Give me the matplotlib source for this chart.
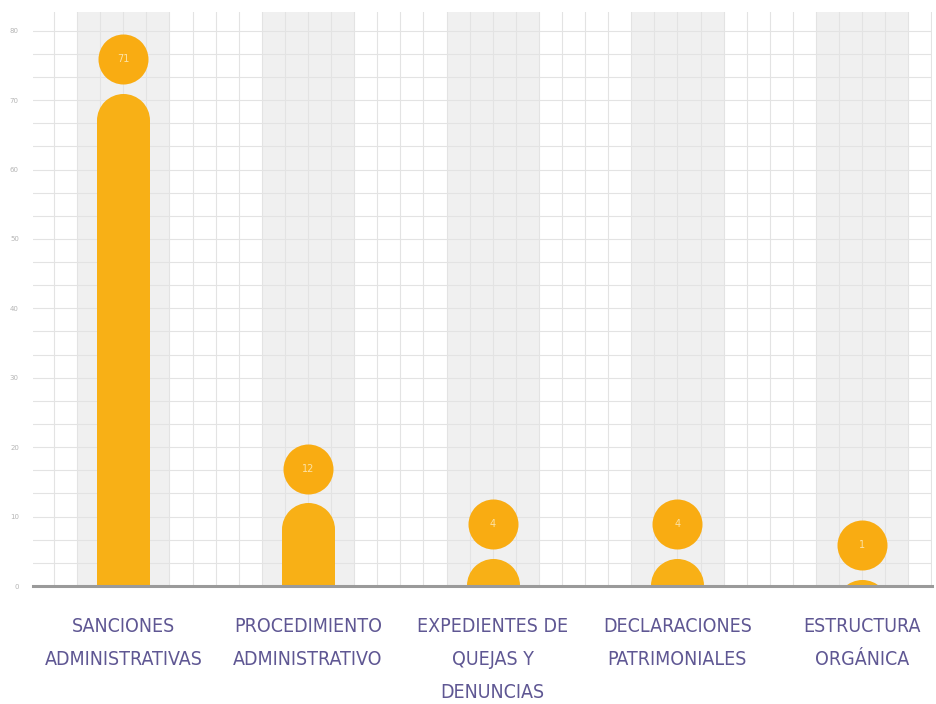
import matplotlib
matplotlib.use("Agg")
import matplotlib.pyplot as plt
from matplotlib.ticker import MultipleLocator

# data
categories = [
    "SANCIONES\nADMINISTRATIVAS",
    "PROCEDIMIENTO\nADMINISTRATIVO",
    "EXPEDIENTES DE\nQUEJAS Y\nDENUNCIAS",
    "DECLARACIONES\nPATRIMONIALES",
    "ESTRUCTURA\nORGÁNICA",
]
values = [71, 12, 4, 4, 1]
value_labels = ["71", "12", "4", "4", "1"]
y_ticks = [0, 10, 20, 30, 40, 50, 60, 70, 80]

bar_color = "#F8B016"
bubble_color = "#F9AC12"
label_color = "#5F5793"

fig = plt.figure(figsize=(9.37, 7.04), dpi=100)
ax = fig.add_axes([0.035, 0.1676, 0.96, 0.8154])

ymin, ymax = 0, 82.7
ax.set_xlim(-0.49, 4.38)
ax.set_ylim(ymin, ymax)

# pixel size of one y unit, used to keep caps round
ax_h_px = fig.get_figheight() * fig.dpi * ax.get_position().height
px_per_unit = ax_h_px / (ymax - ymin)

# light grey bands behind each bar
for i in range(len(categories)):
    ax.axvspan(i - 0.25, i + 0.25, color="#F0F0F0", zorder=0, lw=0)

# background grid
ax.xaxis.set_minor_locator(MultipleLocator(0.125))
ax.yaxis.set_minor_locator(MultipleLocator(10 / 3))
ax.grid(which="both", color="#E3E3E3", lw=0.8, zorder=0.5)
ax.set_axisbelow(True)

bar_w = 0.287
bar_px = 53
r_units = (bar_px / 2) / px_per_unit
cap_pt = bar_px * 72 / fig.dpi

xs = list(range(len(values)))
straight = [max(v - r_units, 0) for v in values]
ax.bar(xs, straight, width=bar_w, color=bar_color, zorder=2, lw=0)
ax.scatter(xs, [v - r_units for v in values], s=cap_pt ** 2,
           color=bar_color, zorder=2, lw=0)

# value bubbles above the bars
bub_pt = 50 * 72 / fig.dpi
bub_y = [v + 34 / px_per_unit for v in values]
ax.scatter(xs, bub_y, s=bub_pt ** 2, color=bubble_color, zorder=3, lw=0)
for x, y, t in zip(xs, bub_y, value_labels):
    ax.text(x, y, t, ha="center", va="center", fontsize=7,
            color="#FCE2A6", zorder=4)

# baseline
ax.axhline(0, color="#9A9A9A", lw=2.2, zorder=5, clip_on=False)

for s in ax.spines.values():
    s.set_visible(False)

ax.set_yticks(y_ticks)
ax.set_yticklabels([str(t) for t in y_ticks], fontsize=5, color="#B5B5B5")
ax.set_xticks(xs)
ax.set_xticklabels(categories, fontsize=14, color=label_color,
                   family=["DejaVu Sans"], fontstretch="condensed",
                   linespacing=1.95)
ax.tick_params(which="both", length=0)
ax.tick_params(axis="x", pad=22)
ax.tick_params(axis="y", pad=10)

fig.savefig("out.png", dpi=100, facecolor="white")
